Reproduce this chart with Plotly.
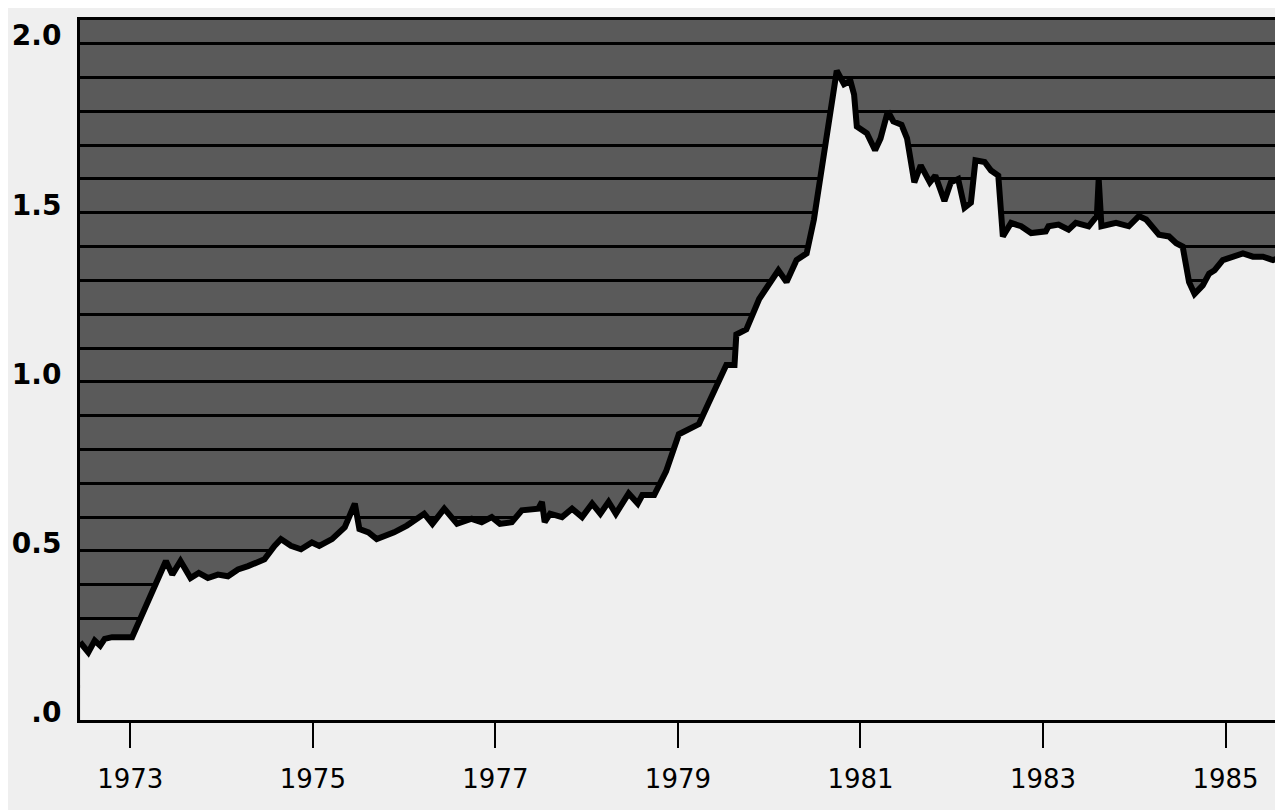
import plotly.graph_objects as go

# Decimal years and index values
years = [
    1972.45, 1972.54, 1972.61, 1972.67, 1972.72, 1972.80, 1973.02,
    1973.39, 1973.46, 1973.55, 1973.66, 1973.75, 1973.85, 1973.96,
    1974.07, 1974.18, 1974.29, 1974.40, 1974.47, 1974.58, 1974.65,
    1974.76, 1974.87, 1974.99, 1975.07, 1975.21, 1975.35, 1975.46,
    1975.51, 1975.61, 1975.70, 1975.89, 1976.03, 1976.22, 1976.31,
    1976.44, 1976.58, 1976.74, 1976.85, 1976.96, 1977.05, 1977.18,
    1977.29, 1977.47, 1977.51, 1977.54, 1977.60, 1977.73, 1977.84,
    1977.95, 1978.06, 1978.15, 1978.24, 1978.32, 1978.46, 1978.56,
    1978.61, 1978.74, 1978.87, 1979.01, 1979.23, 1979.34, 1979.53,
    1979.62, 1979.64, 1979.75, 1979.89, 1980.10, 1980.19, 1980.30,
    1980.41, 1980.49, 1980.63, 1980.74, 1980.82, 1980.89, 1980.93,
    1980.96, 1981.07, 1981.16, 1981.22, 1981.30, 1981.36, 1981.45,
    1981.51, 1981.59, 1981.66, 1981.76, 1981.82, 1981.92, 1981.99,
    1982.07, 1982.14, 1982.21, 1982.26, 1982.36, 1982.43, 1982.51,
    1982.56, 1982.65, 1982.76, 1982.87, 1983.03, 1983.06, 1983.17,
    1983.28, 1983.36, 1983.50, 1983.59, 1983.61, 1983.64, 1983.80,
    1983.94, 1984.05, 1984.13, 1984.19, 1984.27, 1984.38, 1984.46,
    1984.53, 1984.60, 1984.66, 1984.75, 1984.82, 1984.88, 1984.97,
    1985.08, 1985.19, 1985.30, 1985.41, 1985.52, 1985.62, 1985.71,
]
values = [
    0.23, 0.20, 0.235, 0.22, 0.24, 0.245, 0.245,
    0.47, 0.43, 0.47, 0.42, 0.435, 0.42, 0.43,
    0.425, 0.445, 0.455, 0.47, 0.475, 0.515, 0.535,
    0.515, 0.505, 0.525, 0.515, 0.535, 0.57, 0.64,
    0.565, 0.555, 0.535, 0.555, 0.575, 0.61, 0.58,
    0.625, 0.58, 0.595, 0.585, 0.60, 0.58, 0.585,
    0.62, 0.625, 0.645, 0.585, 0.61, 0.60, 0.625,
    0.60, 0.64, 0.61, 0.645, 0.61, 0.67, 0.64,
    0.665, 0.665, 0.735, 0.845, 0.875, 0.94, 1.05,
    1.05, 1.14, 1.155, 1.245, 1.33, 1.295, 1.36,
    1.38, 1.48, 1.715, 1.92, 1.88, 1.89, 1.85,
    1.755, 1.735, 1.685, 1.72, 1.80, 1.77, 1.76,
    1.72, 1.59, 1.64, 1.59, 1.61, 1.535, 1.59,
    1.60, 1.515, 1.53, 1.655, 1.65, 1.625, 1.61,
    1.43, 1.47, 1.46, 1.44, 1.445, 1.46, 1.465,
    1.45, 1.47, 1.46, 1.49, 1.60, 1.46, 1.47,
    1.46, 1.49, 1.48, 1.46, 1.435, 1.43, 1.41,
    1.40, 1.295, 1.26, 1.285, 1.32, 1.33, 1.36,
    1.37, 1.38, 1.37, 1.37, 1.36, 1.37, 1.36,
]

x_tickvals = [1973, 1975, 1977, 1979, 1981, 1983, 1985]
x_ticktext = ["1973", "1975", "1977", "1979", "1981", "1983", "1985"]
y_tickvals = [0, 0.5, 1.0, 1.5, 2.0]
y_ticktext = [".0", "0.5", "1.0", "1.5", "2.0"]

BG = "#efefef"
DARK = "#5a5a5a"

fig = go.Figure()
fig.add_trace(go.Scatter(
    x=years, y=values, mode="lines", fill="tozeroy", fillcolor=BG,
    line=dict(color="black", width=6), hoverinfo="skip", showlegend=False,
))

fig.update_layout(
    width=1283, height=810,
    paper_bgcolor=BG, plot_bgcolor=DARK,
    margin=dict(l=72, r=1, t=12, b=98),
    showlegend=False,
    xaxis=dict(
        range=[1972.449, 1985.706], tickvals=x_tickvals, ticktext=x_ticktext,
        showgrid=False, zeroline=False, automargin=False,
        showline=True, linecolor="black", linewidth=3, mirror=True,
        ticks="outside", ticklen=25, tickwidth=2, tickcolor="black",
        tickfont=dict(family="DejaVu Sans", size=26, color="black"),
        ticklabelstandoff=9,
    ),
    yaxis=dict(
        range=[0, 2.07], tickvals=y_tickvals, ticktext=y_ticktext,
        showgrid=True, gridcolor="black", gridwidth=3, zeroline=False,
        automargin=False,
        showline=True, linecolor="black", linewidth=3, mirror=True,
        ticks="", ticklabelstandoff=10, ticklabelshift=-8,
        tickfont=dict(family="DejaVu Sans", size=28, color="black", weight="bold"),
        minor=dict(dtick=0.1, tick0=0, showgrid=True, gridcolor="black", gridwidth=3),
    ),
)

fig.write_html("out.html")
